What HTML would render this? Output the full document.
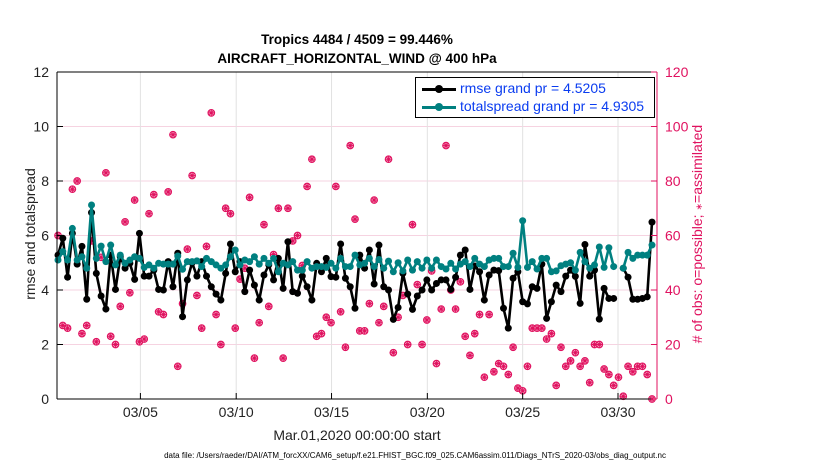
<!DOCTYPE html>
<html><head><meta charset="utf-8"><style>
body{margin:0;background:#fff;font-family:"Liberation Sans",sans-serif}
svg{display:block}
</style></head><body>
<svg id="c" width="830" height="470"></svg>
<script>
const rmse=[5.28,5.9,4.47,6.08,4.95,5.6,3.66,6.84,4.61,3.78,3.3,5.28,4.02,5.22,4.8,4.98,4.39,6.08,4.51,4.51,4.73,4.02,4.0,5.04,4.12,5.35,3.02,4.37,5.0,4.51,5.04,4.51,
4.12,3.85,3.63,4.61,5.69,4.67,5.04,3.94,4.73,4.18,3.63,4.55,4.92,4.37,5.16,4.06,5.77,3.94,3.88,4.51,4.12,3.63,4.98,4.67,5.16,4.49,4.47,5.69,4.43,4.12,3.33,
5.28,4.8,5.47,4.22,5.65,4.12,4.0,2.92,3.36,4.61,3.85,3.29,3.78,4.0,4.37,4.0,4.24,4.37,4.37,4.02,4.47,5.28,5.47,4.02,4.88,4.67,3.63,4.55,4.73,4.71,3.33,
2.6,4.43,4.67,3.57,3.49,4.12,4.06,4.95,2.96,3.57,4.18,3.94,4.51,4.73,4.5,3.51,5.67,4.51,4.73,2.93,4.06,3.69,3.69,null,4.8,4.47,3.66,3.66,3.69,3.75,6.49];
const spread=[5.1,5.41,5.1,6.26,5.1,5.22,4.8,7.12,5.16,5.61,5.04,5.65,4.92,5.28,4.98,5.1,5.22,5.16,4.83,4.92,4.8,4.98,4.95,4.95,4.95,5.25,4.76,5.04,5.04,5.07,4.86,5.16,
5.04,4.92,4.8,4.92,5.22,5.47,4.92,5.1,5.04,5.22,4.95,5.16,4.98,5.16,4.67,4.98,4.92,5.04,4.73,4.73,5.04,4.8,4.86,4.86,4.83,4.98,4.8,5.16,4.86,4.86,5.28,
4.92,4.98,5.16,4.86,5.12,4.8,5.06,4.67,5.0,4.7,5.1,4.73,5.04,4.8,5.1,4.8,5.1,4.86,4.77,4.98,4.77,4.95,5.04,4.86,5.16,4.95,4.86,5.1,5.16,5.16,4.86,
4.86,5.35,4.83,6.54,4.83,5.04,4.77,5.16,5.16,4.67,4.7,4.89,4.95,5.0,4.73,5.38,5.04,4.8,4.92,5.58,4.83,5.55,4.86,null,4.8,5.38,5.16,5.28,5.28,5.28,5.65];
const obsCount=[60,27,26,77,80,24,27,58,21,52,83,23,20,34,65,39,73,21,22,68,75,32,31,76,97,12,35,55,82,38,26,56,105,31,20,70,68,26,44,48,74,15,28,64,34,53,70,15,70,58,60,49,78,88,23,24,30,28,78,32,19,93,66,25,25,35,73,28,34,88,17,30,38,20,64,42,20,29,47,13,33,93,40,33,43,23,16,24,31,8,31,10,13,12,9,19,4,3,12,26,26,26,22,24,5,19,12,14,17,12,14,6,20,20,11,9,5,8,1,12,10,12,12,9,0];
const xTicks=["03/05","03/10","03/15","03/20","03/25","03/30"];
const xTickIdx=[17.2,37.2,57.1,77.1,97,116.9];
const yLeftTicks=[0,2,4,6,8,10,12];
const yRightTicks=[0,20,40,60,80,100,120];

const L=57,R=657,T=72,B=399;
const sx=i=>58+i*(594/124);
const syL=v=>B-(v/12)*(B-T);
const syR=v=>B-(v/120)*(B-T);
const svg=document.getElementById('c');
const NS='http://www.w3.org/2000/svg';
function mk(tag,a,parent){const e=document.createElementNS(NS,tag);for(const k in a)e.setAttribute(k,a[k]);(parent||svg).appendChild(e);return e;}

yLeftTicks.forEach(v=>{if(v>0&&v<12){const g=mk('line',{x1:L,x2:R,y1:syL(v),y2:syL(v),stroke:'#f6d3e1','stroke-width':1});

}});
xTickIdx.forEach(i=>{const g=mk('line',{x1:sx(i),x2:sx(i),y1:T,y2:B,stroke:'#e2e2e2','stroke-width':1});

});

obsCount.forEach((c,i)=>{const x=sx(i),y=syR(c);
const g=mk('g',{});


mk('circle',{cx:x,cy:y,r:3.3,fill:'#f5b3ca',stroke:'#e0115f','stroke-width':1.1},g);
mk('path',{d:`M${x-3} ${y}H${x+3}M${x} ${y-3}V${y+3}M${x-2.1} ${y-2.1}L${x+2.1} ${y+2.1}M${x-2.1} ${y+2.1}L${x+2.1} ${y-2.1}`,stroke:'#e0115f','stroke-width':0.9},g);});

function series(arr,color,name){
 let d='',pen=false;
 arr.forEach((v,i)=>{if(v==null){pen=false;return;}d+=(pen?'L':'M')+sx(i).toFixed(1)+' '+syL(v).toFixed(1);pen=true;});
 const p=mk('path',{d:d,fill:'none',stroke:color,'stroke-width':2.6,'stroke-linejoin':'round'});
 
 
 arr.forEach((v,i)=>{if(v==null)return;
  const m=mk('circle',{cx:sx(i),cy:syL(v),r:3.5,fill:color});
  
  });
}
series(rmse,'#000','rmse');
series(spread,'#008080','totalspread');

mk('line',{x1:L,x2:L,y1:T,y2:B,stroke:'#000'});
mk('line',{x1:R,x2:R,y1:T,y2:B,stroke:'#e0115f'});
mk('line',{x1:L,x2:R,y1:B,y2:B,stroke:'#000'});
mk('line',{x1:L,x2:R,y1:T,y2:T,stroke:'#000'});
yLeftTicks.forEach(v=>{const y=syL(v);mk('line',{x1:L,x2:L+6,y1:y,y2:y,stroke:'#000'});
 const t=mk('text',{x:L-8,y:y+5,'text-anchor':'end','font-size':14,fill:'#222'});t.textContent=v;
 
 });
yRightTicks.forEach(v=>{const y=syR(v);mk('line',{x1:R-6,x2:R,y1:y,y2:y,stroke:'#e0115f'});
 const t=mk('text',{x:R+8,y:y+5,'font-size':14,fill:'#e0115f'});t.textContent=v;
 
 });
xTicks.forEach((s,k)=>{const x=sx(xTickIdx[k]);mk('line',{x1:x,x2:x,y1:B-6,y2:B,stroke:'#000'});
 const t=mk('text',{x:x,y:B+18,'text-anchor':'middle','font-size':14,fill:'#222'});t.textContent=s;
 
 });
</script>
<div style="position:absolute;left:0;top:0;width:830px;height:470px;pointer-events:none">
<div style="position:absolute;left:0;width:714px;top:30px;text-align:center;font-weight:bold;font-size:13.5px;line-height:19px;color:#000">Tropics 4484 / 4509 = 99.446%<br>AIRCRAFT_HORIZONTAL_WIND @ 400 hPa</div>
<div style="position:absolute;left:-45px;top:226px;width:150px;text-align:center;transform:rotate(-90deg);font-size:14px;color:#222;white-space:nowrap">rmse and totalspread</div>
<div style="position:absolute;left:547px;top:226px;width:300px;height:16px;text-align:center;transform:rotate(-90deg);font-size:14px;line-height:16px;color:#e0115f;white-space:nowrap">#&nbsp;of obs: o=possible; <span style="font-size:9px">&#8727;</span>=assimilated</div>
<div style="position:absolute;left:57px;width:600px;top:427px;text-align:center;font-size:14px;color:#222">Mar.01,2020 00:00:00 start</div>
<div style="position:absolute;left:0;width:830px;top:451px;text-align:center;font-size:8px;color:#000">data file: /Users/raeder/DAI/ATM_forcXX/CAM6_setup/f.e21.FHIST_BGC.f09_025.CAM6assim.011/Diags_NTrS_2020-03/obs_diag_output.nc</div>
<div style="position:absolute;left:415px;top:77px;width:240px;height:41px;background:#fff;border:1px solid #000;box-sizing:border-box;font-size:14px">
 <div style="position:absolute;left:6px;top:3px;width:230px;height:16px">
  <div style="position:absolute;left:0;top:7px;width:34px;height:3px;background:#000"></div><div style="position:absolute;left:13px;top:4px;width:8px;height:8px;border-radius:50%;background:#000"></div>
  <span style="position:absolute;left:38px;top:-1px;color:#0a3cf0">rmse grand pr = 4.5205</span></div>
 <div style="position:absolute;left:6px;top:21px;width:230px;height:16px">
  <div style="position:absolute;left:0;top:7px;width:34px;height:3px;background:#008080"></div><div style="position:absolute;left:13px;top:4px;width:8px;height:8px;border-radius:50%;background:#008080"></div>
  <span style="position:absolute;left:38px;top:-1px;color:#0a3cf0">totalspread grand pr = 4.9305</span></div>
</div>
</div>
</body></html>
